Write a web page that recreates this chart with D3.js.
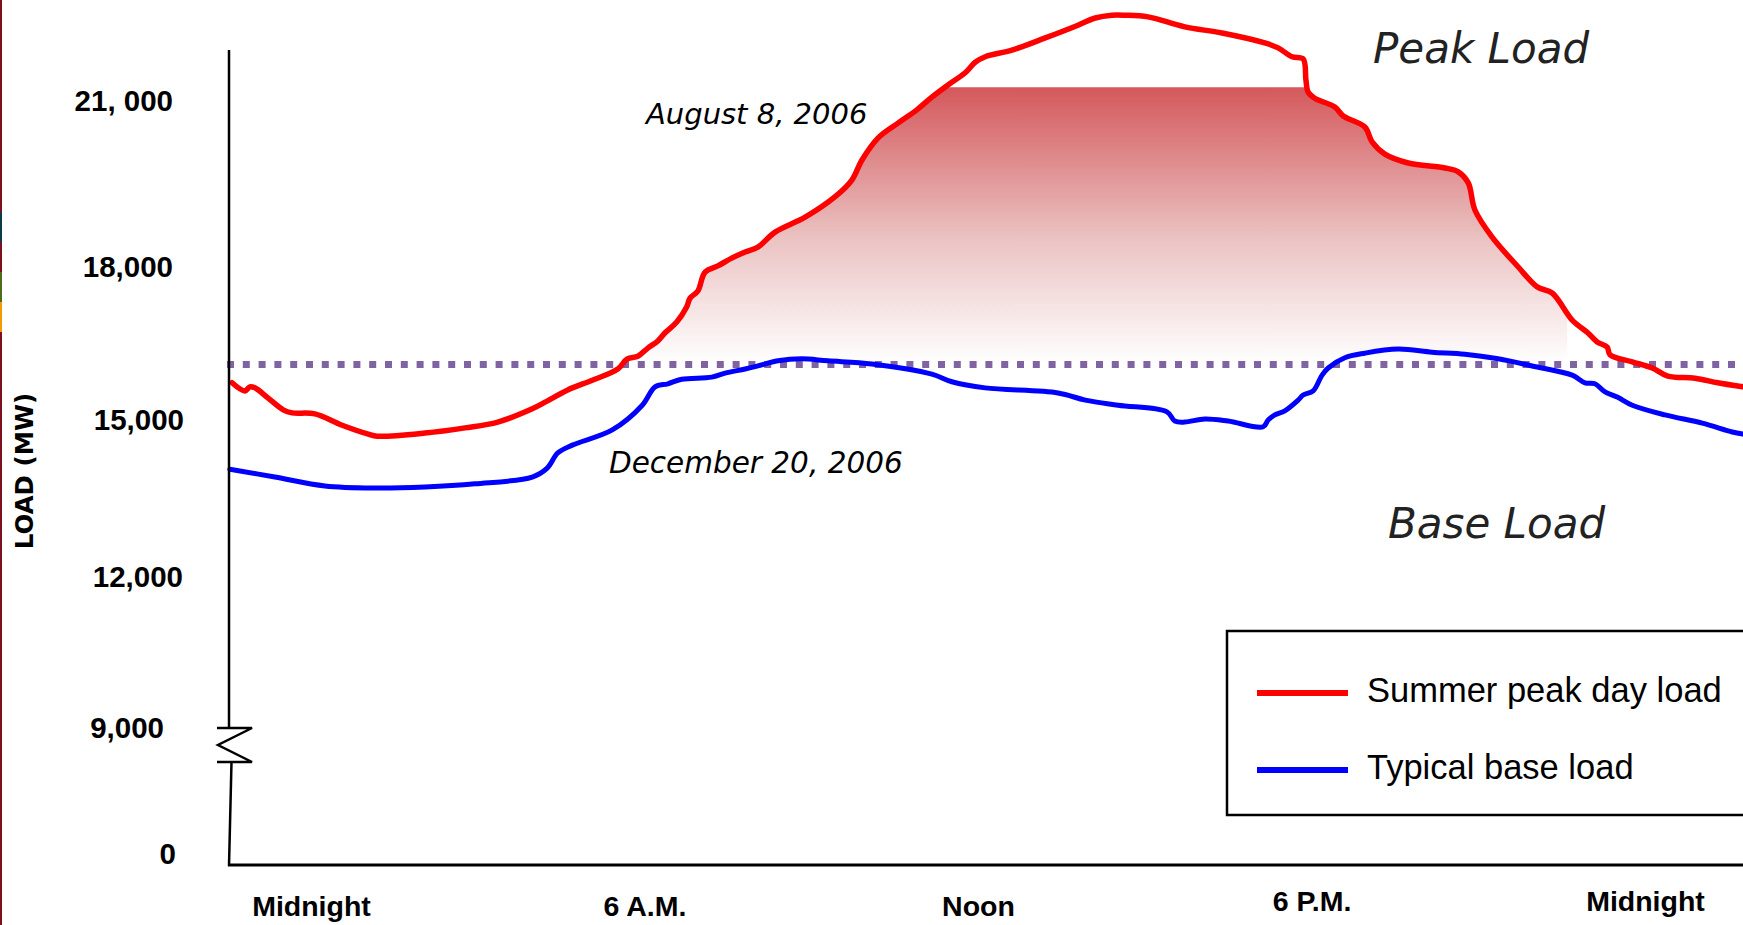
<!DOCTYPE html>
<html><head><meta charset="utf-8">
<script src="https://cdn.jsdelivr.net/npm/d3@7"></script>
<style>html,body{margin:0;padding:0;background:#fff;overflow:hidden}</style>
</head><body>
<svg id="chart" width="1743" height="925"></svg>
<script>
// ---- data (hours of day, load in MW) ----
const hoursRed = [-1.42,-1.19,-1.10,-1.01,-0.77,-0.50,-0.34,0.07,0.56,1.03,1.19,2.05,2.77,3.36,3.98,4.21,4.62,5.06,5.52,5.69,5.88,6.06,6.24,6.37,6.58,6.76,6.82,6.96,7.09,7.32,7.57,7.81,8.04,8.35,8.89,9.43,9.73,9.91,10.20,10.56,10.90,11.17,11.46,11.77,11.95,12.13,12.61,13.21,13.80,14.11,14.41,14.64,15.06,15.72,16.39,17.16,17.40,17.65,17.85,17.90,17.94,18.06,18.42,18.57,18.96,19.09,19.32,19.74,20.40,20.64,20.82,20.94,21.25,21.72,22.06,22.33,22.69,22.97,23.14,23.32,23.37,23.77,24.13,24.41,24.90,25.31,25.76];
const loadRed  = [15730,15570,15650,15630,15430,15200,15140,15120,14900,14730,14690,14750,14850,14960,15220,15350,15590,15780,16000,16200,16250,16410,16550,16710,16920,17220,17390,17530,17900,18020,18160,18270,18360,18630,18900,19270,19570,19930,20330,20600,20840,21070,21290,21510,21700,21800,21920,22140,22370,22500,22550,22550,22520,22340,22230,22050,21960,21800,21760,21380,21160,21050,20890,20730,20530,20260,20040,19880,19790,19720,19520,19030,18540,18000,17610,17490,16960,16710,16530,16430,16280,16140,16020,15860,15820,15730,15650];
const hoursBlue = [-1.46,-0.65,0.25,1.15,2.05,2.95,3.98,4.25,4.44,4.70,5.42,5.96,6.19,6.42,6.67,7.21,7.45,7.81,8.04,8.40,8.83,9.30,10.09,11.17,11.53,12.13,13.44,13.93,14.52,15.40,15.54,15.72,16.08,16.50,17.13,17.22,17.34,17.52,17.76,17.85,18.03,18.19,18.30,18.60,18.96,19.56,20.17,20.76,21.36,21.97,22.69,22.92,23.10,23.28,23.50,23.77,24.36,25.03,25.57,25.76];
const loadBlue  = [14060,13910,13740,13700,13720,13780,13910,14080,14370,14520,14810,15290,15650,15710,15800,15840,15920,16000,16060,16160,16200,16160,16100,15900,15750,15630,15530,15390,15290,15160,14980,14960,15020,14980,14870,15000,15100,15180,15390,15490,15570,15880,16020,16220,16310,16390,16330,16290,16200,16060,15880,15730,15710,15550,15450,15290,15100,14940,14770,14730];
const thresholdLoad = 16090;   // dotted reference level
const fillCapLoad = 21250;     // top of shaded peak band
const fillEndHour = 22.6;      // shaded band ends here
const xTickValues = [0, 6, 12, 18, 24];
const xTickLabels = ["Midnight", "6 A.M.", "Noon", "6 P.M.", "Midnight"];
const yTickValues = [0, 9000, 12000, 15000, 18000, 21000];
const yTickLabels = ["0", "9,000", "12,000", "15,000", "18,000", "21, 000"];
const seriesNames = ["Summer peak day load", "Typical base load"];
const seriesColors = ["#ff0000", "#0000ff"];

const svg = d3.select("#chart");

// slide edge decoration
const edge = [["#7a1020",0,925],["#0d3b4a",212,30],["#7a1020",242,30],["#4f6b1c",272,30],["#f29a00",302,30]];
svg.selectAll("rect.edge").data(edge).join("rect").attr("class","edge")
  .attr("x",0).attr("width",2).attr("y",d=>d[1]).attr("height",d=>d[2]).attr("fill",d=>d[0]);

// scales
const x = d3.scaleLinear().domain([0, 24]).range([311, 1645]);
const y = d3.scaleLinear().domain(yTickValues).range([854, 728, 577, 420, 267, 101]);

const red = hoursRed.map((h, i) => ({h, v: loadRed[i]}));
const blue = hoursBlue.map((h, i) => ({h, v: loadBlue[i]}));
const curve = d3.curveCatmullRom.alpha(0.5);

// gradient
const defs = svg.append("defs");
const grad = defs.append("linearGradient").attr("id","peakGrad")
  .attr("gradientUnits","userSpaceOnUse").attr("x1",0).attr("x2",0)
  .attr("y1", y(fillCapLoad)).attr("y2", y(thresholdLoad));
grad.append("stop").attr("offset","0%").attr("stop-color","#d4585c");
grad.append("stop").attr("offset","55%").attr("stop-color","#ebc3c3");
grad.append("stop").attr("offset","100%").attr("stop-color","#ffffff");
defs.append("clipPath").attr("id","peakClip").append("rect")
  .attr("x", x(hoursRed[0])).attr("y", y(fillCapLoad))
  .attr("width", x(fillEndHour) - x(hoursRed[0]))
  .attr("height", y(thresholdLoad) - y(fillCapLoad));

svg.append("path").datum(red)
  .attr("clip-path","url(#peakClip)")
  .attr("fill","url(#peakGrad)")
  .attr("d", d3.area().x(d=>x(d.h)).y0(y(thresholdLoad)).y1(d=>y(d.v)).curve(curve));

// dotted threshold line
svg.append("line")
  .attr("x1", 227).attr("x2", 1743)
  .attr("y1", y(thresholdLoad)).attr("y2", y(thresholdLoad))
  .attr("stroke","#8064a2").attr("stroke-width",7).attr("stroke-dasharray","7 8.8");

// series lines
const line = d3.line().x(d=>x(d.h)).y(d=>y(d.v)).curve(curve);
svg.append("path").datum(blue).attr("fill","none").attr("stroke",seriesColors[1])
  .attr("stroke-width",5).attr("stroke-linejoin","round").attr("stroke-linecap","round").attr("d",line);
svg.append("path").datum(red).attr("fill","none").attr("stroke",seriesColors[0])
  .attr("stroke-width",5.5).attr("stroke-linejoin","round").attr("stroke-linecap","round").attr("d",line);

// y axis with break
const axisX = 229;
svg.append("path").attr("fill","none").attr("stroke","#000").attr("stroke-width",2.5)
  .attr("d", `M${axisX},50 L${axisX},${y(9000)} M217,${y(9000)} L252,${y(9000)} L218,745 L252,762 L217,762 M231.5,762 L${axisX},866`);
const yNudge = [-1, -13, 6, 7, -4, -4];
const yAxis = svg.append("g").attr("transform",`translate(${axisX},0)`)
  .call(d3.axisLeft(y).tickValues(yTickValues).tickFormat((d,i)=>yTickLabels[i]).tickSize(0).tickPadding(52));
yAxis.select(".domain").remove();
yAxis.selectAll("text").attr("font-family","'Liberation Sans', Arial, sans-serif")
  .attr("font-weight","bold").attr("font-size",29.5).attr("fill","#000")
  .attr("transform",(d,i)=>`translate(${yNudge[i]},0)`);

// x axis
svg.append("line").attr("x1",228).attr("x2",1743).attr("y1",865).attr("y2",865)
  .attr("stroke","#000").attr("stroke-width",3);
const xNudge = [0,0,0,-5,-5];
const xAxis = svg.append("g").attr("transform","translate(0,865)")
  .call(d3.axisBottom(x).tickValues(xTickValues).tickFormat((d,i)=>xTickLabels[i]).tickSize(0).tickPadding(31));
xAxis.select(".domain").remove();
xAxis.selectAll("text").attr("font-family","'Liberation Sans', Arial, sans-serif")
  .attr("font-weight","bold").attr("font-size",28.5).attr("fill","#000")
  .attr("transform",(d,i)=>`translate(0,${xNudge[i]})`);

// axis title
svg.append("text").attr("transform","translate(33,471) rotate(-90)")
  .attr("text-anchor","middle").attr("font-family","'DejaVu Sans', sans-serif")
  .attr("font-weight","bold").attr("font-size",24.5).text("LOAD (MW)");

// annotations
const ann = [
  {t:"August 8, 2006", x:646, y:124, s:29, c:"#000"},
  {t:"December 20, 2006", x:609, y:473, s:29.5, c:"#000"},
  {t:"Peak Load", x:1373, y:63, s:42, c:"#222"},
  {t:"Base Load", x:1388, y:538, s:42, c:"#222"}
];
svg.selectAll("text.ann").data(ann).join("text").attr("class","ann")
  .attr("x",d=>d.x).attr("y",d=>d.y).attr("font-family","'DejaVu Sans', sans-serif")
  .attr("font-style","italic").attr("font-size",d=>d.s).attr("fill",d=>d.c).text(d=>d.t);

// legend
const lg = svg.append("g");
lg.append("rect").attr("x",1227).attr("y",631).attr("width",600).attr("height",184)
  .attr("fill","#fff").attr("stroke","#000").attr("stroke-width",2.5);
const items = lg.selectAll("g.item").data(seriesNames).join("g").attr("class","item")
  .attr("transform",(d,i)=>`translate(1257,${693 + i*77})`);
items.append("line").attr("x1",0).attr("x2",91).attr("y1",0).attr("y2",0)
  .attr("stroke",(d,i)=>seriesColors[i]).attr("stroke-width",6);
items.append("text").attr("x",110).attr("y",9).attr("font-family","'Liberation Sans', Arial, sans-serif")
  .attr("font-size",34.5).attr("fill","#000").text(d=>d);
</script>
</body></html>
